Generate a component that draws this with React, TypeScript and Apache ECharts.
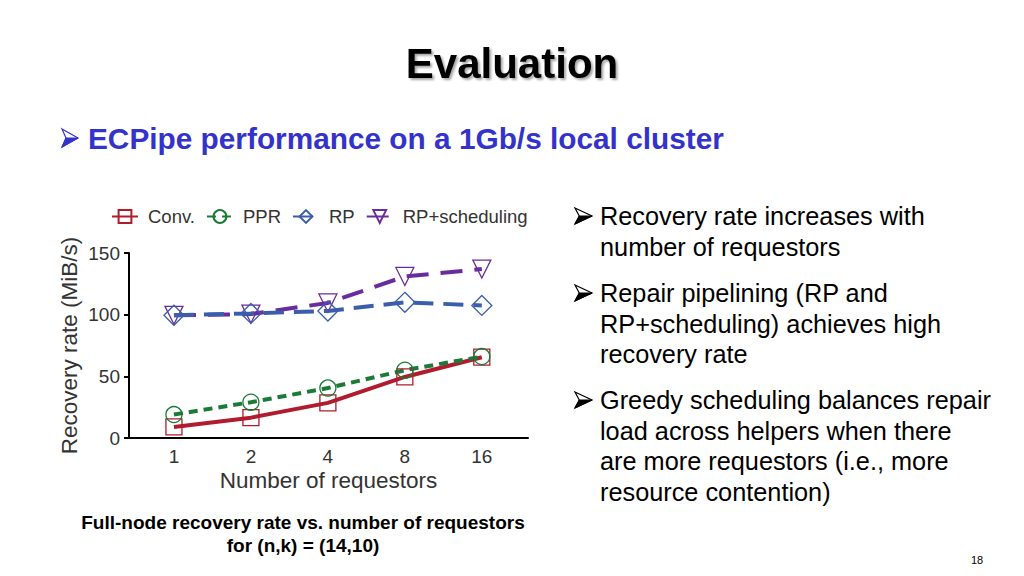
import React, { useEffect, useRef } from "react";
import * as echarts from "echarts";

const categories = ["1", "2", "4", "8", "16"];
const convValues = [9, 16.5, 28.5, 49.5, 65.5];
const pprValues = [19, 29, 40.5, 55, 66];
const rpValues = [99.5, 101, 103, 110, 107.5];
const rpSchedValues = [99.5, 100.5, 109.5, 131, 137];
const yTicks = { min: 0, max: 150, interval: 50 };
const xRange = { min: -0.584, max: 4.6 };

const seriesNames = ["Conv.", "PPR", "RP", "RP+scheduling"];
const seriesColors = ["#b01c2e", "#1a7a36", "#3b5eac", "#6a2c9c"];

const bulletLines = [
  ["Recovery rate increases with", "number of requestors"],
  ["Repair pipelining (RP and", "RP+scheduling) achieves high", "recovery rate"],
  ["Greedy scheduling balances repair", "load across helpers when there", "are more requestors (i.e., more", "resource contention)"],
];

const FONT = "'Liberation Sans', Arial, Helvetica, sans-serif";

function toPairs(vals: number[]) {
  return vals.map((v, i) => [i, v]);
}

function arrowBullet(x: number, y: number, w: number, h: number, color: string) {
  return {
    type: "group",
    x,
    y,
    children: [
      {
        type: "polygon",
        shape: { points: [[0, 0], [w, h / 2], [0, h], [w * 0.25, h / 2]] },
        style: { fill: "#fff", stroke: color, lineWidth: 1.2 },
      },
      {
        type: "polygon",
        shape: { points: [[w * 0.25, h / 2], [w, h / 2], [0, h]] },
        style: { fill: color, stroke: color, lineWidth: 1 },
      },
    ],
  };
}

export default function App() {
  const ref = useRef<HTMLDivElement>(null);
  useEffect(() => {
    if (!ref.current) return;
    const chart = echarts.init(ref.current, undefined, { renderer: "svg" });

    const graphics: any[] = [];
    graphics.push({
      type: "text",
      x: 512,
      y: 63,
      style: {
        text: "Evaluation",
        font: `bold 42px ${FONT}`,
        fill: "#000",
        align: "center",
        verticalAlign: "middle",
        textShadowColor: "rgba(0,0,0,0.35)",
        textShadowOffsetX: 2,
        textShadowOffsetY: 2,
        textShadowBlur: 2,
      },
    });
    graphics.push(arrowBullet(62, 129, 16, 18, "#3333cc"));
    graphics.push({
      type: "text",
      x: 88,
      y: 138,
      style: {
        text: "ECPipe performance on a 1Gb/s local cluster",
        font: `bold 29.8px ${FONT}`,
        fill: "#3333cc",
        verticalAlign: "middle",
      },
    });
    const groupStarts = [216, 293, 400];
    bulletLines.forEach((lines, gi) => {
      graphics.push(arrowBullet(575, groupStarts[gi] - 8, 17, 16, "#000"));
      lines.forEach((line, li) => {
        graphics.push({
          type: "text",
          x: 600,
          y: groupStarts[gi] + li * 30.7,
          style: { text: line, font: `25.3px ${FONT}`, fill: "#000", verticalAlign: "middle" },
        });
      });
    });
    graphics.push({
      type: "text",
      x: 303,
      y: 522,
      style: {
        text: "Full-node recovery rate vs. number of requestors",
        font: `bold 19px ${FONT}`,
        fill: "#000",
        align: "center",
        verticalAlign: "middle",
      },
    });
    graphics.push({
      type: "text",
      x: 303,
      y: 545,
      style: {
        text: "for (n,k) = (14,10)",
        font: `bold 19px ${FONT}`,
        fill: "#000",
        align: "center",
        verticalAlign: "middle",
      },
    });
    graphics.push({
      type: "text",
      x: 977,
      y: 560,
      style: { text: "18", font: `11px ${FONT}`, fill: "#000", align: "center", verticalAlign: "middle" },
    });

    const allValues = [convValues, pprValues, rpValues, rpSchedValues];
    const symbols = ["rect", "circle", "diamond", "triangle"];
    const symbolSizes = [16, 16, 20, 18];
    const dashes: any[] = ["solid", [9, 6], [20, 10], [22, 12]];

    chart.setOption({
      animation: false,
      backgroundColor: "#fff",
      textStyle: { fontFamily: FONT },
      graphic: graphics,
      legend: {
        left: 106,
        top: 202,
        itemWidth: 26,
        itemHeight: 16,
        itemGap: 11,
        textStyle: { fontSize: 18.5, color: "#333", padding: [0, 0, 0, 5] },
        data: seriesNames,
      },
      grid: { left: 129, right: 496, top: 253, bottom: 138, containLabel: false },
      xAxis: {
        type: "value",
        min: xRange.min,
        max: xRange.max,
        name: "Number of requestors",
        nameLocation: "middle",
        nameGap: 31,
        nameTextStyle: { fontSize: 22.5, color: "#333" },
        axisLine: { lineStyle: { color: "#000", width: 2 } },
        axisTick: { show: false },
        splitLine: { show: false },
        axisLabel: {
          customValues: [0, 1, 2, 3, 4],
          formatter: (v: number) => categories[Math.round(v)] ?? "",
          fontSize: 19,
          color: "#333",
          margin: 9,
        },
      },
      yAxis: {
        type: "value",
        position: "left",
        min: yTicks.min,
        max: yTicks.max,
        interval: yTicks.interval,
        name: "Recovery rate (MiB/s)",
        nameLocation: "middle",
        nameGap: 48,
        nameTextStyle: { fontSize: 22.5, color: "#333" },
        axisLine: { show: true, onZero: false, lineStyle: { color: "#000", width: 2 } },
        axisTick: { show: true, length: 5, lineStyle: { color: "#000", width: 2 } },
        splitLine: { show: false },
        axisLabel: { fontSize: 19, color: "#333", margin: 9 },
      },
      series: seriesNames.map((name, i) => ({
        name,
        type: "line",
        data: toPairs(allValues[i]),
        symbol: symbols[i],
        symbolSize: symbolSizes[i],
        symbolRotate: i === 3 ? 180 : 0,
        showAllSymbol: true,
        lineStyle: { color: seriesColors[i], width: 4, type: dashes[i] },
        itemStyle: { color: "rgba(255,255,255,0)", borderColor: seriesColors[i], borderWidth: 1.3 },
        z: i === 3 ? 1 : 2,
      })),
    });

    // Ensure the y-axis spine is drawn at the grid's left edge.
    const pTop = chart.convertToPixel({ gridIndex: 0 }, [xRange.min, yTicks.max]) as number[];
    const pBot = chart.convertToPixel({ gridIndex: 0 }, [xRange.min, yTicks.min]) as number[];
    chart.setOption({
      graphic: [
        ...graphics,
        {
          type: "line",
          z: 5,
          shape: { x1: pTop[0], y1: pTop[1], x2: pBot[0], y2: pBot[1] + 1 },
          style: { stroke: "#000", lineWidth: 2 },
        },
      ],
    });
    return () => chart.dispose();
  }, []);
  return (
    <div
      ref={ref}
      style={{ position: "fixed", left: 0, top: 0, width: 1024, height: 576, background: "#fff" }}
    />
  );
}
